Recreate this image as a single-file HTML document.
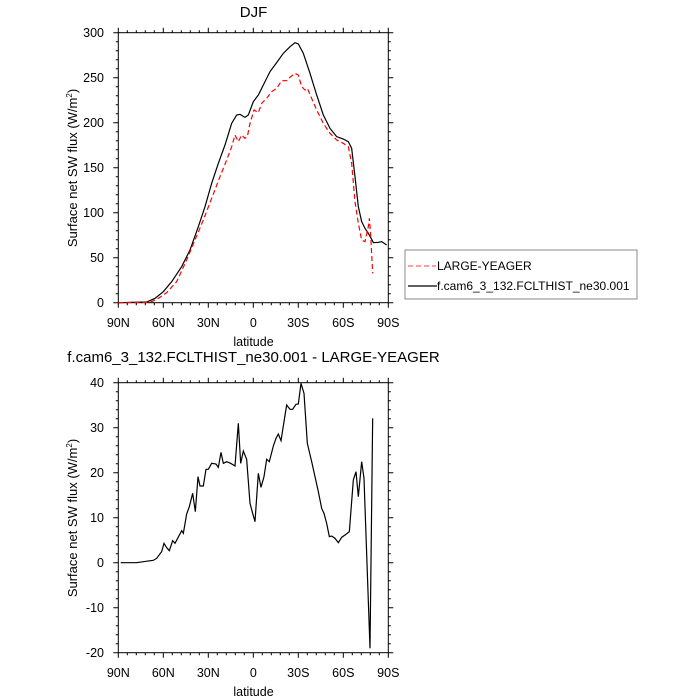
<!DOCTYPE html>
<html><head><style>
html,body{margin:0;padding:0;background:#fff;}
svg{display:block;font-family:"Liberation Sans",Helvetica,sans-serif;}
</style></head><body>
<svg width="700" height="700" xmlns="http://www.w3.org/2000/svg">
<defs>
<g id="xt">
<g stroke="#000" stroke-width="1">
<path d="M118.3 0v5M163.3 0v5M208.3 0v5M253.3 0v5M298.3 0v5M343.3 0v5M388.3 0v5"/>
<path d="M127.3 0v2.5M136.3 0v2.5M145.3 0v2.5M154.3 0v2.5M172.3 0v2.5M181.3 0v2.5M190.3 0v2.5M199.3 0v2.5M217.3 0v2.5M226.3 0v2.5M235.3 0v2.5M244.3 0v2.5M262.3 0v2.5M271.3 0v2.5M280.3 0v2.5M289.3 0v2.5M307.3 0v2.5M316.3 0v2.5M325.3 0v2.5M334.3 0v2.5M352.3 0v2.5M361.3 0v2.5M370.3 0v2.5M379.3 0v2.5"/>
</g>
</g>
<g id="xtt">
<g stroke="#000" stroke-width="1">
<path d="M118.3 0v-5M163.3 0v-5M208.3 0v-5M253.3 0v-5M298.3 0v-5M343.3 0v-5M388.3 0v-5"/>
<path d="M127.3 0v-2.5M136.3 0v-2.5M145.3 0v-2.5M154.3 0v-2.5M172.3 0v-2.5M181.3 0v-2.5M190.3 0v-2.5M199.3 0v-2.5M217.3 0v-2.5M226.3 0v-2.5M235.3 0v-2.5M244.3 0v-2.5M262.3 0v-2.5M271.3 0v-2.5M280.3 0v-2.5M289.3 0v-2.5M307.3 0v-2.5M316.3 0v-2.5M325.3 0v-2.5M334.3 0v-2.5M352.3 0v-2.5M361.3 0v-2.5M370.3 0v-2.5M379.3 0v-2.5"/>
</g>
</g>
<g id="yt">
<g stroke="#000" stroke-width="1">
<path d="M0 0h-5M0 45h-5M0 90h-5M0 135h-5M0 180h-5M0 225h-5M0 270h-5"/>
<path d="M0 9h-2.5M0 18h-2.5M0 27h-2.5M0 36h-2.5M0 54h-2.5M0 63h-2.5M0 72h-2.5M0 81h-2.5M0 99h-2.5M0 108h-2.5M0 117h-2.5M0 126h-2.5M0 144h-2.5M0 153h-2.5M0 162h-2.5M0 171h-2.5M0 189h-2.5M0 198h-2.5M0 207h-2.5M0 216h-2.5M0 234h-2.5M0 243h-2.5M0 252h-2.5M0 261h-2.5"/>
</g>
</g>
<g id="xl" font-size="12.5" text-anchor="middle">
<text x="118.3" y="0">90N</text><text x="163.3" y="0">60N</text><text x="208.3" y="0">30N</text><text x="253.3" y="0">0</text><text x="298.3" y="0">30S</text><text x="343.3" y="0">60S</text><text x="388.3" y="0">90S</text>
</g>
</defs>

<text x="253.5" y="17" font-size="15" text-anchor="middle">DJF</text>
<rect x="118.3" y="32.7" width="270" height="270" fill="none" stroke="#000" stroke-width="1"/>
<use href="#xt" transform="translate(0,302.7)"/>
<use href="#xtt" transform="translate(0,32.7)"/>
<use href="#yt" transform="translate(118.3,32.7)"/>
<use href="#yt" transform="translate(388.3,32.7) scale(-1,1)"/>
<g font-size="12.5" text-anchor="end">
<text x="104" y="37">300</text><text x="104" y="82">250</text><text x="104" y="127">200</text><text x="104" y="172">150</text><text x="104" y="217">100</text><text x="104" y="262">50</text><text x="104" y="307">0</text>
</g>
<use href="#xl" transform="translate(0,327)"/>
<text x="253.5" y="346" font-size="12.5" text-anchor="middle">latitude</text>
<text transform="translate(77,168) rotate(-90)" font-size="13" text-anchor="middle">Surface net SW flux (W/m<tspan font-size="8" dy="-5">2</tspan><tspan dy="5">)</tspan></text>

<g transform="translate(100,20) scale(0.33333)" fill="none">
<polyline vector-effect="non-scaling-stroke" stroke="#000" stroke-width="1.2" points="55,848 140,846 165,835 190,815 215,785 245,740 270,690 295,620 315,560 335,490 355,430 375,375 395,310 410,285 420,283 435,292 445,285 460,245 475,225 490,195 510,155 530,128 550,100 570,80 585,68 595,72 610,100 630,160 650,225 670,285 690,325 710,350 730,357 745,365 755,385 765,470 775,560 785,605 795,625 805,640 815,658 820,668 835,667 845,665 860,675"/>
<polyline vector-effect="non-scaling-stroke" stroke="#f00" stroke-width="1.2" stroke-dasharray="5,3" points="55,848 150,847 175,835 200,818 230,785 260,720 285,660 310,600 335,535 360,470 380,420 395,380 405,345 415,365 425,345 435,355 442,350 450,310 462,270 475,278 485,250 500,235 515,215 530,205 545,182 560,182 570,172 585,160 595,165 605,200 615,210 622,205 635,235 650,270 670,310 690,340 710,360 730,370 745,380 755,430 765,545 775,610 785,660 795,665 805,620 808,595 812,645 818,760"/>
</g>

<rect x="405" y="250" width="232" height="49" fill="none" stroke="#888" stroke-width="1"/>
<line x1="408" y1="266" x2="436" y2="266" stroke="#f66" stroke-width="1.2" stroke-dasharray="5,3"/>
<text x="437" y="270" font-size="12">LARGE-YEAGER</text>
<line x1="408" y1="286" x2="437" y2="286" stroke="#000" stroke-width="1.2"/>
<text x="437" y="290" font-size="12">f.cam6_3_132.FCLTHIST_ne30.001</text>

<text x="253.5" y="362" font-size="15" text-anchor="middle">f.cam6_3_132.FCLTHIST_ne30.001 - LARGE-YEAGER</text>
<rect x="118.3" y="382.7" width="270" height="270" fill="none" stroke="#000" stroke-width="1"/>
<use href="#xt" transform="translate(0,652.7)"/>
<use href="#xtt" transform="translate(0,382.7)"/>
<use href="#yt" transform="translate(118.3,382.7)"/>
<use href="#yt" transform="translate(388.3,382.7) scale(-1,1)"/>
<g font-size="12.5" text-anchor="end">
<text x="104" y="387">40</text><text x="104" y="432">30</text><text x="104" y="477">20</text><text x="104" y="522">10</text><text x="104" y="567">0</text><text x="104" y="612">-10</text><text x="104" y="657">-20</text>
</g>
<use href="#xl" transform="translate(0,677)"/>
<text x="253.5" y="696" font-size="12.5" text-anchor="middle">latitude</text>
<text transform="translate(77,518) rotate(-90)" font-size="13" text-anchor="middle">Surface net SW flux (W/m<tspan font-size="8" dy="-5">2</tspan><tspan dy="5">)</tspan></text>

<g transform="translate(100,370) scale(0.33333)" fill="none">
<polyline vector-effect="non-scaling-stroke" stroke="#000" stroke-width="1.2" points="62,578 110,578 130,575 160,571 170,565 185,545 192,520 200,533 208,542 218,512 225,520 245,482 250,490 260,432 268,410 278,370 286,425 294,320 300,348 310,348 318,298 325,298 335,280 348,282 355,292 363,247 370,280 380,275 392,280 405,288 415,160 422,280 430,243 440,268 450,400 458,430 465,455 475,310 483,352 492,320 500,268 508,275 520,228 528,205 535,192 543,212 550,168 560,105 570,118 578,118 588,103 595,102 603,40 612,70 622,220 635,275 645,320 655,365 665,415 672,430 680,460 688,500 695,498 705,505 715,518 725,502 735,495 748,485 760,330 768,305 775,380 785,275 792,325 810,835 818,145"/>
</g>
</svg>
</body></html>
